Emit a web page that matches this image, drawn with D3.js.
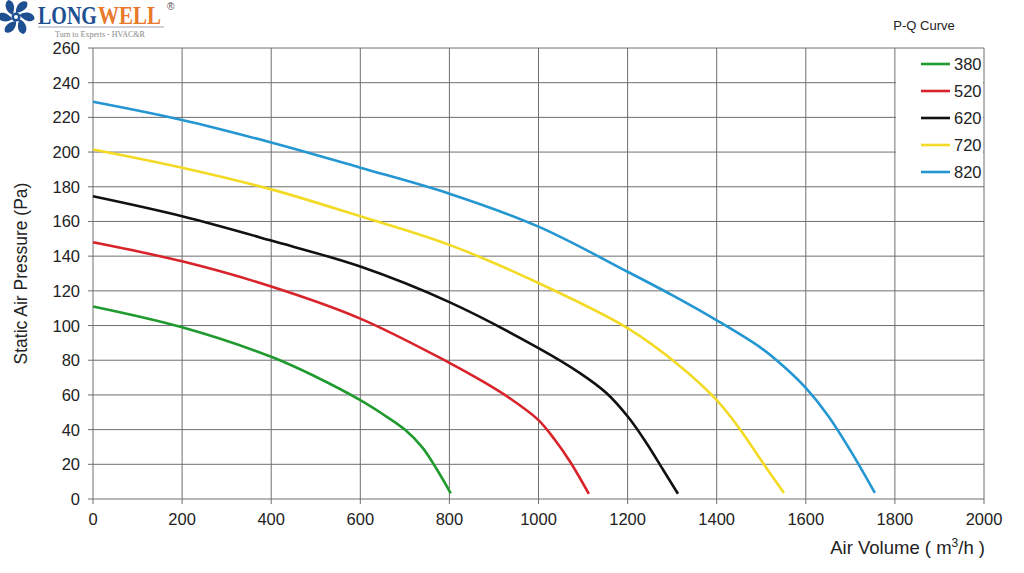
<!DOCTYPE html>
<html>
<head>
<meta charset="utf-8">
<script src="https://cdn.jsdelivr.net/npm/d3@7"></script>
<style>
  body { margin: 0; background: #fff; }
  svg { display: block; font-family: "Liberation Sans", Arial, sans-serif; }
</style>
</head>
<body>
<div class="chart-wrapper"></div>
<script>
// P-Q curves (air volume m3/h, static pressure Pa)
const seriesNames = ['380', '520', '620', '720', '820']
const seriesColors = ['#1f9a2e', '#d9232a', '#111111', '#f3da24', '#2496d2']

const volume380 = [0, 200, 400, 500, 600, 650, 700, 740, 772, 803]
const pressure380 = [111, 99, 82, 70.5, 57, 49, 40, 29.5, 17, 3.3]

const volume520 = [0, 200, 400, 600, 800, 870, 936, 1000, 1037, 1071, 1113]
const pressure520 = [148, 137, 122.5, 104, 78.5, 68.5, 58, 45.5, 34, 21.5, 3]

const volume620 = [0, 200, 400, 600, 800, 1000, 1093, 1153, 1203, 1243, 1280, 1313]
const pressure620 = [174.5, 163, 149, 134, 113.5, 87, 72.6, 61, 46.7, 32, 16.7, 3]

const volume720 = [0, 200, 400, 600, 800, 1000, 1200, 1317, 1400, 1450, 1504, 1551]
const pressure720 = [201.5, 191, 178.5, 163, 146.5, 124.5, 98.5, 76.7, 57, 41, 20.7, 3.5]

const volume820 = [0, 200, 400, 600, 800, 1000, 1200, 1300, 1400, 1500, 1550, 1600, 1650, 1700, 1755]
const pressure820 = [229, 218.5, 205.5, 191, 176, 157, 131, 117.5, 103, 87, 76.5, 64, 48, 28, 3.5]

const xTicks = d3.range(0, 2001, 200)
const yTicks = d3.range(0, 261, 20)

const volumes = [volume380, volume520, volume620, volume720, volume820]
const pressures = [pressure380, pressure520, pressure620, pressure720, pressure820]

const series = seriesNames.map((name, i) => ({
  name: name,
  color: seriesColors[i],
  points: volumes[i].map((v, j) => [v, pressures[i][j]])
}))

const width = 1024
const height = 573

const svg = d3.select('.chart-wrapper').append('svg')
  .attr('width', width)
  .attr('height', height)

const x = d3.scaleLinear().domain([0, 2000]).range([93, 984])
const y = d3.scaleLinear().domain([0, 260]).range([499, 48])

// grid
svg.append('g')
  .attr('class', 'grid-x')
  .selectAll('line')
  .data(xTicks)
  .enter()
  .append('line')
  .attr('x1', d => x(d))
  .attr('x2', d => x(d))
  .attr('y1', y(260))
  .attr('y2', y(0) + 5)
  .attr('stroke', '#6e6e6e')
  .attr('stroke-width', 1)

svg.append('g')
  .attr('class', 'grid-y')
  .selectAll('line')
  .data(yTicks)
  .enter()
  .append('line')
  .attr('x1', x(0) - 5)
  .attr('x2', x(2000))
  .attr('y1', d => y(d))
  .attr('y2', d => y(d))
  .attr('stroke', '#6e6e6e')
  .attr('stroke-width', 1)

// legend background covers the grid inside its cell
svg.append('rect')
  .attr('x', x(1800) + 1)
  .attr('y', y(260) + 1)
  .attr('width', x(2000) - x(1800) - 2)
  .attr('height', y(180) - y(260) - 2)
  .attr('fill', '#fff')

// tick labels
svg.append('g')
  .selectAll('text')
  .data(xTicks)
  .enter()
  .append('text')
  .attr('x', d => x(d))
  .attr('y', 525)
  .attr('text-anchor', 'middle')
  .attr('font-size', 16.5)
  .attr('fill', '#222')
  .text(d => d)

svg.append('g')
  .selectAll('text')
  .data(yTicks)
  .enter()
  .append('text')
  .attr('x', 80)
  .attr('y', d => y(d) + 6)
  .attr('text-anchor', 'end')
  .attr('font-size', 16.5)
  .attr('fill', '#222')
  .text(d => d)

// axis titles
svg.append('text')
  .attr('transform', 'translate(27,' + y(130) + ') rotate(-90)')
  .attr('text-anchor', 'middle')
  .attr('font-size', 17.5)
  .attr('fill', '#222')
  .text('Static Air Pressure (Pa)')

let xTitle = svg.append('text')
  .attr('x', 985)
  .attr('y', 554)
  .attr('text-anchor', 'end')
  .attr('font-size', 18.5)
  .attr('fill', '#222')
xTitle.append('tspan').text('Air Volume ( m')
xTitle.append('tspan').attr('font-size', 12).attr('dy', -7).text('3')
xTitle.append('tspan').attr('dy', 7).text('/h )')

svg.append('text')
  .attr('x', 924)
  .attr('y', 30)
  .attr('text-anchor', 'middle')
  .attr('font-size', 13)
  .attr('fill', '#222')
  .text('P-Q Curve')

// curves
const line = d3.line()
  .x(d => x(d[0]))
  .y(d => y(d[1]))
  .curve(d3.curveCatmullRom.alpha(0.5))

svg.append('g')
  .selectAll('path')
  .data(series)
  .enter()
  .append('path')
  .attr('d', d => line(d.points))
  .attr('fill', 'none')
  .attr('stroke', d => d.color)
  .attr('stroke-width', 2.6)
  .attr('stroke-linejoin', 'round')

// legend
let legend = svg.append('g')
  .selectAll('g')
  .data(series)
  .enter()
  .append('g')
  .attr('transform', (d, i) => 'translate(0,' + (64 + i * 27) + ')')

legend.append('line')
  .attr('x1', 921)
  .attr('x2', 950)
  .attr('stroke', d => d.color)
  .attr('stroke-width', 2.6)

legend.append('text')
  .attr('x', 954)
  .attr('y', 6)
  .attr('font-size', 16.5)
  .attr('fill', '#222')
  .text(d => d.name)

// logo
let logo = svg.append('g').attr('class', 'logo')

let fan = logo.append('g').attr('transform', 'translate(16,17)')
fan.selectAll('path')
  .data(d3.range(6))
  .enter()
  .append('path')
  .attr('d', 'M0,-4 C7,-5 13,-9 11,-15 C6,-18 -1,-12 0,-4 Z')
  .attr('fill', '#1d4f91')
  .attr('transform', d => 'rotate(' + d * 60 + ')')
fan.append('circle').attr('r', 4.5).attr('fill', '#1d4f91')
fan.append('circle').attr('r', 2).attr('fill', '#fff')

const serif = '"Liberation Serif", "DejaVu Serif", serif'

// brand letters are tall and narrow: natural width, stretched vertically
logo.append('text')
  .attr('transform', 'translate(38,23.5) scale(1,1.22)')
  .attr('font-family', serif)
  .attr('font-weight', 'bold')
  .attr('font-size', 20)
  .attr('fill', '#1d4f91')
  .text('LONG')

logo.append('text')
  .attr('transform', 'translate(98,23.5) scale(1,1.22)')
  .attr('font-family', serif)
  .attr('font-weight', 'bold')
  .attr('font-size', 21)
  .attr('fill', '#e8782a')
  .text('WELL')

logo.append('text')
  .attr('x', 167)
  .attr('y', 10)
  .attr('font-size', 10)
  .attr('fill', '#555')
  .text('®')

logo.append('line')
  .attr('x1', 38)
  .attr('x2', 164)
  .attr('y1', 27)
  .attr('y2', 27)
  .attr('stroke', '#9aa3b5')
  .attr('stroke-width', 1)

logo.append('text')
  .attr('x', 100)
  .attr('y', 37)
  .attr('text-anchor', 'middle')
  .attr('font-family', serif)
  .attr('font-size', 8)
  .attr('fill', '#888')
  .text('Turn to Experts - HVAC&R')
</script>
</body>
</html>
